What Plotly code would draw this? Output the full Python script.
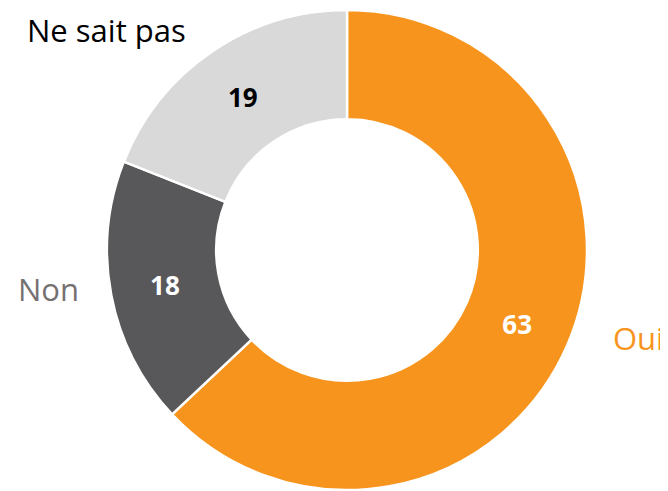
import plotly.graph_objects as go

labels = ["Oui", "Non", "Ne sait pas"]
values = [63, 18, 19]
slice_colors = ["#F7941D", "#58585A", "#D9D9D9"]
number_colors = ["white", "white", "black"]
label_colors = ["#F7941D", "#767171", "#000000"]

# the page body has an 8px margin; the figure is sized/offset to compensate
OFF = 8
W, H = 668 - OFF, 491 - OFF
FONT = "Open Sans"


def px_x(x):
    return (x - OFF) / W


def px_y(y):
    return 1 - (y - OFF) / H


fig = go.Figure(go.Pie(
    labels=labels,
    values=values,
    sort=False,
    direction="clockwise",
    rotation=0,
    hole=0.545,
    marker=dict(colors=slice_colors, line=dict(color="white", width=2.5)),
    texttemplate="<b>%{value}</b>",
    textposition="inside",
    insidetextorientation="horizontal",
    textfont=dict(family=FONT, size=26, color=number_colors),
    showlegend=False,
    hoverinfo="label+value",
    domain=dict(x=[px_x(107), px_x(587)], y=[px_y(490), px_y(10)]),
))

# outside category labels (pixel centres)
label_pos = {"Oui": (638, 338), "Non": (48, 289), "Ne sait pas": (106, 30)}
for lab, col in zip(labels, label_colors):
    px, py = label_pos[lab]
    fig.add_annotation(
        x=px_x(px), y=px_y(py), xref="paper", yref="paper",
        text=lab, showarrow=False, xanchor="center", yanchor="middle",
        font=dict(family=FONT, size=31, color=col),
    )

fig.update_layout(
    width=W, height=H,
    margin=dict(l=0, r=0, t=0, b=0),
    paper_bgcolor="white",
    plot_bgcolor="white",
)

fig.write_html("out.html")
